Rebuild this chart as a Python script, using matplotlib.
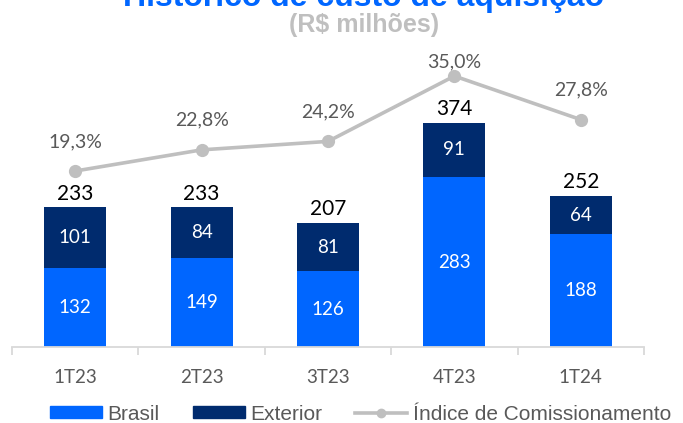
import matplotlib
matplotlib.use("Agg")
import matplotlib.pyplot as plt
import numpy as np
from matplotlib.patches import Patch
from matplotlib.lines import Line2D

categories = ["1T23", "2T23", "3T23", "4T23", "1T24"]
brasil = [132, 149, 126, 283, 188]
exterior = [101, 84, 81, 91, 64]
totais = [233, 233, 207, 374, 252]
indice = [19.3, 22.8, 24.2, 35.0, 27.8]
indice_labels = ["19,3%", "22,8%", "24,2%", "35,0%", "27,8%"]

C_BR = "#0066FF"
C_EX = "#002B6E"
C_LINE = "#BFBFBF"
C_AX = "#D9D9D9"
C_TXT = "#595959"
NUM_FONT = ["Lato", "DejaVu Sans"]
TXT_FONT = ["Liberation Sans", "DejaVu Sans"]

W, H = 683, 423
fig = plt.figure(figsize=(W / 100, H / 100), dpi=100)
ax_bottom = 347
ax_top = 30
ax = fig.add_axes([12 / W, 1 - ax_bottom / H, (644 - 12) / W, (ax_bottom - ax_top) / H])
ax2 = ax.twinx()

x = np.arange(len(categories))
bw = 0.49
ax.bar(x, brasil, bw, color=C_BR, zorder=2)
ax.bar(x, exterior, bw, bottom=brasil, color=C_EX, zorder=2)

ax.set_xlim(-0.5, len(categories) - 0.5)
ax.set_ylim(0, (ax_bottom - ax_top) / 0.60)

for i in range(len(categories)):
    ax.text(x[i], brasil[i] / 2, str(brasil[i]), ha="center", va="center",
            color="white", fontsize=13.5, family=NUM_FONT, zorder=3)
    ax.text(x[i], brasil[i] + exterior[i] / 2, str(exterior[i]), ha="center", va="center",
            color="white", fontsize=13.5, family=NUM_FONT, zorder=3)
    ax.annotate(str(totais[i]), (x[i], totais[i]), xytext=(0, 5.5), textcoords="offset points",
                ha="center", va="baseline", fontsize=15, family=NUM_FONT, color="black")

# secondary axis for the line
px_per_pct = 6.05
zero_y = 287.8
ax2.set_ylim((zero_y - ax_bottom) / px_per_pct, (zero_y - ax_top) / px_per_pct)
ax2.plot(x, indice, color=C_LINE, lw=2.6, marker="o", ms=8.5, zorder=3)
fig.canvas.draw()
min_baseline_from_top = 67  # labels cannot rise above the plot area
for i in range(len(categories)):
    _, py = ax2.transData.transform((x[i], indice[i]))
    p_from_top = H - py
    base_from_top = max(p_from_top - 24, min_baseline_from_top)
    off_pt = (p_from_top - base_from_top) * 72 / 100
    ax2.annotate(indice_labels[i], (x[i], indice[i]), xytext=(0, off_pt), textcoords="offset points",
                 ha="center", va="baseline", fontsize=14, family=NUM_FONT, color=C_TXT)
ax2.set_yticks([])

for a in (ax, ax2):
    for s in ("top", "left", "right", "bottom"):
        a.spines[s].set_visible(False)
ax.spines["bottom"].set_visible(True)
ax.spines["bottom"].set_color(C_AX)
ax.spines["bottom"].set_linewidth(1.3)
ax.set_yticks([])

ax.set_xticks(x)
ax.set_xticklabels(categories, fontsize=13.5, color=C_TXT, family=NUM_FONT)
ax.tick_params(axis="x", which="major", length=0, pad=15.5)
ax.set_xticks(np.arange(-0.5, len(categories)), minor=True)
ax.tick_params(axis="x", which="minor", length=6, width=1.3, color=C_AX)

# titles
fig.text(364 / W, 1 - 6 / H, "Histórico de custo de aquisição", ha="center", va="baseline",
         fontsize=23, fontweight="bold", color=C_BR, family=TXT_FONT)
fig.text(364 / W, 1 - 25 / H, "(R$ milhões)", ha="center", va="center",
         fontsize=18, fontweight="bold", color="#BFBFBF", family=TXT_FONT)

handles = [Patch(color=C_BR, label="Brasil"),
           Patch(color=C_EX, label="Exterior"),
           Line2D([], [], color=C_LINE, lw=2.6, marker="o", ms=6, label="Índice de Comissionamento")]
leg = fig.legend(handles=handles, loc="center left", bbox_to_anchor=(50 / W, 1 - 414 / H),
                 ncol=3, frameon=False, handlelength=2.5, handleheight=0.52,
                 handletextpad=0.25, columnspacing=1.6, borderpad=0, borderaxespad=0,
                 prop={"family": TXT_FONT, "size": 15})
for t in leg.get_texts():
    t.set_color(C_TXT)

fig.savefig("out.png", dpi=100)
